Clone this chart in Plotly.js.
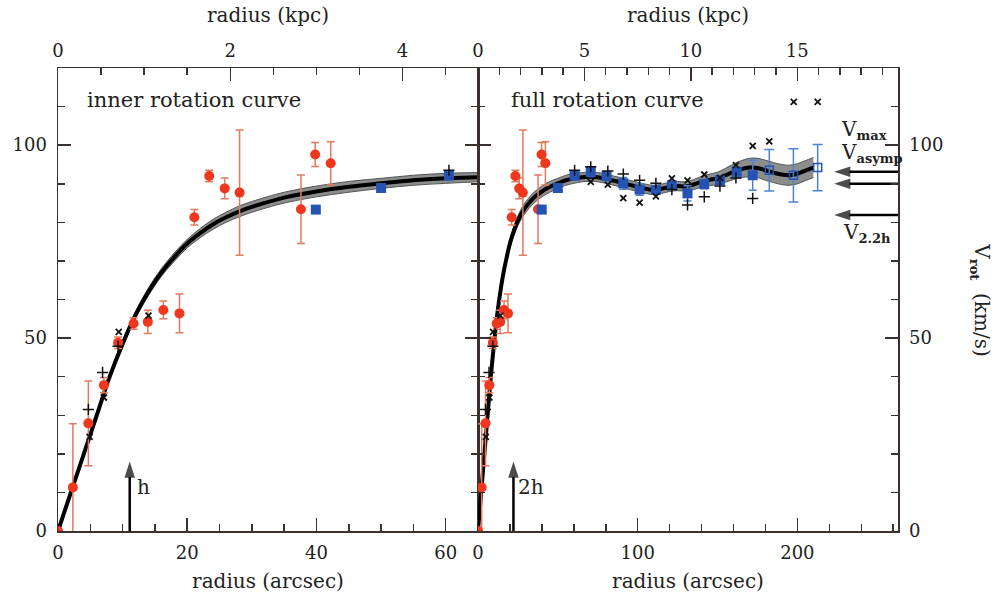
<!DOCTYPE html>
<html>
<head>
<meta charset="utf-8">
<script src="https://cdn.plot.ly/plotly-3.0.1.min.js"></script>
<style>html,body{margin:0;padding:0;background:#fff;}#chart{width:997px;height:600px;}</style>
</head>
<body>
<div id="chart"></div>
<script>
// ---------------- data (radius in arcsec, velocity in km/s) ----------------
const arcsecPerKpc = 13.33;
const scaleLengthH = 11.1;          // disk scale length h (arcsec)
const arrowTipV = 18;               // height reached by the h / 2h arrows (km/s)
const vMax = 93.1, vAsymp = 90.0, v22h = 81.9;
const vArrowEnd = 223;              // radius (arcsec) where the velocity arrows point

// model rotation curve with uncertainty band
const curveR = [0,2,4,6,8,10,12,14,16,18,20,22,24,26,28,30,35,40,45,50,55,60,65,70,75,80,85,90,95,100,105,110,115,120,125,130,135,140,145,150,155,160,165,170,175,180,185,190,195,200,205,210];
const curveV = [0,10,20,30,40,48.5,56,62,67,71,74.5,77.2,79.5,81.3,82.8,84,86.4,88,89.2,90.1,90.9,91.4,91.7,91.8,91.7,91.3,90.8,90.3,89.7,89.2,88.7,88.4,88.7,89.2,89.4,89.3,89.8,90.5,91.0,91.4,92.2,93.1,93.8,94.2,94.1,93.5,92.9,92.4,92.2,92.6,93.4,94.2];
const curveErr = [0.3,0.4,0.5,0.6,0.7,0.8,0.9,1,1,1.1,1.1,1.2,1.3,1.3,1.4,1.4,1.4,1.4,1.4,1.3,1.3,1.3,1.2,1.2,1.2,1.2,1.2,1.2,1.2,1.2,1.2,1.2,1.2,1.2,1.2,1.2,1.3,1.4,1.5,1.6,1.8,2.0,2.2,2.4,2.5,2.6,2.6,2.6,2.6,2.6,2.6,2.6];

// optical (red) points
const redR = [0, 2.3, 4.7, 7.1, 9.3, 11.7, 13.9, 16.3, 18.8, 21.1, 23.4, 25.8, 28.1, 37.6, 39.8, 42.2];
const redV = [0, 11.3, 27.9, 37.8, 48.8, 53.8, 54.2, 57.3, 56.4, 81.3, 92.0, 88.8, 87.7, 83.4, 97.6, 95.3];
const redErr = [0.5, 16.5, 11, 2, 1.5, 1.5, 3, 2.3, 5, 2, 1.5, 2.7, 16.2, 8.9, 3.1, 5.6];

// HI (blue) points, filled
const blueR = [39.9, 50.0, 60.5, 70.6, 80.5, 90.9, 101.2, 111.4, 121.4, 131.2, 141.7, 151.5, 162.0, 172.0];
const blueV = [83.3, 88.9, 92.1, 93.1, 92.0, 90.1, 88.5, 88.4, 89.6, 87.5, 89.9, 90.9, 93.1, 92.2];
const blueErr = [0.8, 0.8, 1.0, 1.2, 1.2, 1.5, 1.5, 1.0, 1.0, 2.0, 1.2, 1.0, 1.2, 3.9];
// HI (blue) points, open
const openR = [182.4, 197.5, 212.7];
const openV = [93.5, 92.2, 94.2];
const openErr = [5.4, 6.9, 6.0];

// individual sides: x-crosses and plus-crosses
const xsR = [4.9, 7.1, 9.4, 14.0, 70.6, 81.3, 91.0, 101.2, 111.4, 121.4, 131.2, 141.7, 151.5, 161.5, 172.0, 182.4, 197.7, 212.7];
const xsV = [24.4, 34.6, 51.6, 55.8, 90.5, 89.8, 86.3, 85.1, 86.7, 91.4, 90.9, 92.4, 91.5, 94.8, 99.8, 101.0, 111.2, 111.2];
const psR = [4.7, 6.9, 9.3, 60.5, 70.6, 81.3, 91.0, 101.2, 111.4, 121.4, 131.2, 141.7, 151.5, 161.5, 172.0];
const psV = [31.5, 41.1, 47.9, 93.5, 94.4, 93.3, 92.5, 90.9, 90.1, 88.5, 84.5, 86.6, 89.4, 91.5, 86.2];

// axis ranges
const leftMax = 65, rightMax = 263, vTop = 120;

// ---------------- styling ----------------
const FONT = 'DejaVu Serif, serif';
const AX = '#3a302e';
const RED = '#f0361c', REDERR = '#e37a5e';
const BLUE = '#2453b3', BLUEERR = '#4d82d4';

function panel(xa, ya) {
  const up = curveV.map((v, i) => v + curveErr[i]);
  const lo = curveV.map((v, i) => v - curveErr[i]);
  return [
    {x: curveR, y: up, xaxis: xa, yaxis: ya, mode: 'lines', line: {color: '#555', width: 1, shape: 'spline'}, hoverinfo: 'skip'},
    {x: curveR, y: lo, xaxis: xa, yaxis: ya, mode: 'lines', line: {color: '#555', width: 1, shape: 'spline'}, fill: 'tonexty', fillcolor: '#8b8e8c', hoverinfo: 'skip'},
    {x: curveR, y: curveV, xaxis: xa, yaxis: ya, mode: 'lines', line: {color: '#000', width: 4, shape: 'spline'}},
    {x: redR, y: redV, xaxis: xa, yaxis: ya, mode: 'markers',
     marker: {color: RED, size: 10, symbol: 'circle'},
     error_y: {type: 'data', array: redErr, color: REDERR, thickness: 1.5, width: 4}},
    {x: blueR, y: blueV, xaxis: xa, yaxis: ya, mode: 'markers',
     marker: {color: BLUE, size: 10, symbol: 'square'},
     error_y: {type: 'data', array: blueErr, color: BLUEERR, thickness: 1.5, width: 4}},
    {x: openR, y: openV, xaxis: xa, yaxis: ya, mode: 'markers',
     marker: {color: BLUE, size: 8, symbol: 'square-open', line: {width: 1.5}},
     error_y: {type: 'data', array: openErr, color: BLUEERR, thickness: 1.5, width: 5}},
    {x: xsR, y: xsV, xaxis: xa, yaxis: ya, mode: 'markers',
     marker: {symbol: 'x-thin', size: 6, line: {color: '#111', width: 1.8}}},
    {x: psR, y: psV, xaxis: xa, yaxis: ya, mode: 'markers',
     marker: {symbol: 'cross-thin', size: 8, line: {color: '#111', width: 1.5}}}
  ];
}

// arrows drawn as line traces ending in an arrow-head marker
function arrow(xs, ys, xa, ya) {
  return {x: xs, y: ys, xaxis: xa, yaxis: ya, mode: 'lines+markers', cliponaxis: false,
    line: {color: '#000', width: 2.5},
    marker: {symbol: 'arrow', angleref: 'previous', size: [0, 17], color: '#000', line: {width: 0}}};
}

const traces = [].concat(panel('x', 'y'), panel('x2', 'y2'), [
  arrow([scaleLengthH, scaleLengthH], [0, arrowTipV], 'x', 'y'),
  arrow([2 * scaleLengthH, 2 * scaleLengthH], [0, arrowTipV], 'x2', 'y2'),
  arrow([rightMax, vArrowEnd], [vMax, vMax], 'x2', 'y2'),
  arrow([rightMax, vArrowEnd], [vAsymp, vAsymp], 'x2', 'y2'),
  arrow([rightMax, vArrowEnd], [v22h, v22h], 'x2', 'y2'),
  {x: [], y: [], xaxis: 'x3', yaxis: 'y', mode: 'markers'},
  {x: [], y: [], xaxis: 'x4', yaxis: 'y2', mode: 'markers'}
]);

function axisBase(extra) {
  return Object.assign({
    showline: true, linecolor: AX, linewidth: 1.5,
    ticks: 'inside', ticklen: 13, tickwidth: 1.5, tickcolor: AX,
    showgrid: false, zeroline: false, fixedrange: true,
    tickfont: {family: FONT, size: 18, color: '#222'}
  }, extra);
}
function minor(d) { return {dtick: d, ticklen: 7, ticks: 'inside', tickcolor: AX, tickwidth: 1.5, showgrid: false}; }
function ttl(t, s) { return {text: t, standoff: s, font: {family: FONT, size: 20, color: '#222'}}; }

const sub = t => '<sub><span style="font-size:13px;font-weight:bold">' + t + '</span></sub>';

const layout = {
  width: 997, height: 600,
  margin: {l: 58, r: 99, t: 68, b: 69},
  paper_bgcolor: '#fff', plot_bgcolor: '#fff',
  showlegend: false,
  font: {family: FONT, color: '#222'},
  xaxis: axisBase({domain: [0, 0.5], range: [0, leftMax], anchor: 'y', dtick: 20, tick0: 0, minor: minor(5), ticklabelstandoff: 5, title: ttl('radius (arcsec)', 12)}),
  xaxis2: axisBase({domain: [0.5, 1], range: [0, rightMax], anchor: 'y2', dtick: 100, tick0: 0, minor: minor(20), ticklabelstandoff: 5, title: ttl('radius (arcsec)', 12)}),
  xaxis3: axisBase({overlaying: 'x', side: 'top', anchor: 'y', range: [0, leftMax / arcsecPerKpc], dtick: 2, tick0: 0, minor: minor(0.5), ticklabelstandoff: 2, title: ttl('radius (kpc)', 12)}),
  xaxis4: axisBase({overlaying: 'x2', side: 'top', anchor: 'y2', range: [0, rightMax / arcsecPerKpc], dtick: 5, tick0: 0, minor: minor(1), ticklabelstandoff: 2, title: ttl('radius (kpc)', 12)}),
  yaxis: axisBase({domain: [0, 1], range: [0, vTop], anchor: 'x', side: 'left', mirror: 'ticks', dtick: 50, tick0: 0, minor: minor(10), ticklabelstandoff: 6}),
  yaxis2: axisBase({domain: [0, 1], range: [0, vTop], anchor: 'x2', side: 'right', mirror: 'ticks', dtick: 50, tick0: 0, minor: minor(10), ticklabelstandoff: 6}),
  annotations: [
    {text: 'inner rotation curve', xref: 'x', yref: 'y', x: 4.2, y: 111.7, xanchor: 'left', yanchor: 'middle', showarrow: false, font: {family: FONT, size: 21, color: '#222'}},
    {text: 'full rotation curve', xref: 'x2', yref: 'y2', x: 19.4, y: 111.7, xanchor: 'left', yanchor: 'middle', showarrow: false, font: {family: FONT, size: 21, color: '#222'}},
    {text: 'h', xref: 'x', yref: 'y', x: scaleLengthH, y: 11.4, xanchor: 'left', yanchor: 'middle', xshift: 5, showarrow: false, font: {family: FONT, size: 20, color: '#222'}},
    {text: '2h', xref: 'x2', yref: 'y2', x: 2 * scaleLengthH, y: 11.4, xanchor: 'left', yanchor: 'middle', xshift: 3, showarrow: false, font: {family: FONT, size: 20, color: '#222'}},
    {text: 'V' + sub('max'), xref: 'x2', yref: 'y2', x: 226, y: vMax + 10.8, xanchor: 'left', yanchor: 'middle', showarrow: false, font: {family: FONT, size: 20, color: '#222'}},
    {text: 'V' + sub('asymp'), xref: 'x2', yref: 'y2', x: 226, y: vMax + 5.0, xanchor: 'left', yanchor: 'middle', showarrow: false, font: {family: FONT, size: 20, color: '#222'}},
    {text: 'V' + sub('2.2h'), xref: 'x2', yref: 'y2', x: 227, y: v22h - 4.6, xanchor: 'left', yanchor: 'middle', showarrow: false, font: {family: FONT, size: 20, color: '#222'}},
    {text: 'V' + sub('rot') + '  (km/s)', xref: 'paper', yref: 'paper', x: 1.099, y: 0.5, xanchor: 'center', yanchor: 'middle', textangle: 90, showarrow: false, font: {family: FONT, size: 20, color: '#222'}}
  ]
};

Plotly.newPlot('chart', traces, layout, {staticPlot: true, displayModeBar: false});
</script>
</body>
</html>
